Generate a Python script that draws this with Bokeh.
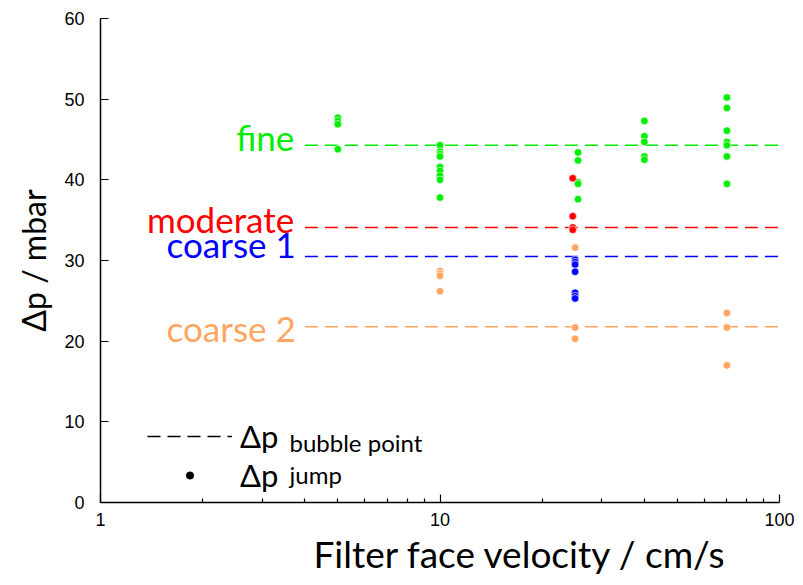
from bokeh.plotting import figure
from bokeh.models import (Range1d, FixedTicker, SingleIntervalTicker, PrintfTickFormatter,
                          Legend, LegendItem, Label, Title)
from bokeh.core.properties import value
from bokeh.embed import file_html
from bokeh.resources import INLINE

# Pressure jump measurements (mbar) at each filter face velocity (cm/s)
fine_x = [5, 5, 5, 5,
          10, 10, 10, 10, 10, 10, 10, 10, 10,
          25.5, 25.5, 25.5, 25.5, 25.5,
          40, 40, 40, 40, 40,
          70, 70, 70, 70, 70, 70, 70]
fine_y = [47.7, 47.3, 46.9, 43.8,
          44.3, 43.5, 43.2, 42.9, 41.6, 41.1, 40.5, 40.0, 37.8,
          43.4, 42.4, 39.7, 39.5, 37.6,
          47.3, 45.4, 44.7, 42.9, 42.5,
          50.2, 48.9, 46.1, 44.7, 44.3, 42.9, 39.5]

moderate_x = [24.6, 24.6, 24.6, 24.6]
moderate_y = [40.2, 35.5, 34.1, 33.8]

coarse1_x = [25, 25, 25, 25, 25, 25, 25]
coarse1_y = [30.1, 29.8, 29.5, 28.6, 26.0, 25.6, 25.3]

coarse2_x = [10, 10, 10, 10, 25, 25, 25, 70, 70, 70]
coarse2_y = [28.7, 28.4, 28.1, 26.2, 31.6, 21.7, 20.3, 23.5, 21.7, 17.0]

# Bubble point pressure of each filter grade (mbar)
grades = ["fine", "moderate", "coarse 1", "coarse 2"]
bubble_point = [44.3, 34.1, 30.5, 21.8]
grade_colors = ["#00ee00", "#ff0000", "#0000ff", "#ffa560"]
bubble_x_start = 4
bubble_x_end = 100

# Grade name placement (left of each bubble point line)
name_x = [3.72, 3.72, 3.76, 3.76]
name_y = [45.3, 35.2, 32.0, 21.6]

x_ticks = [1, 10, 100]
x_minor = [2, 3, 4, 5, 6, 7, 8, 9, 20, 30, 40, 50, 60, 70, 80, 90]

TEXT_FONT = "Lato"
TICK_FONT = "Liberation Sans"

p = figure(width=803, height=585, x_axis_type="log",
           x_range=Range1d(1, 100), y_range=Range1d(0, 60),
           output_backend="svg", toolbar_location=None,
           min_border_left=100, min_border_right=24,
           min_border_top=18, min_border_bottom=83)
p.outline_line_color = None
p.xgrid.visible = False
p.ygrid.visible = False
p.background_fill_color = "white"
p.border_fill_color = "white"

# bubble point lines
for bp, c in zip(bubble_point, grade_colors):
    p.segment(x0=[bubble_x_start], y0=[bp], x1=[bubble_x_end], y1=[bp],
              line_color=c, line_width=1.5, line_dash="13 7")

# grade names
p.text(x=name_x, y=name_y, text=grades, text_color=grade_colors,
       text_align="right", text_baseline="middle",
       text_font=value(TEXT_FONT), text_font_size="35px")

# jump pressure points
for xs, ys, c in [(fine_x, fine_y, grade_colors[0]),
                  (moderate_x, moderate_y, grade_colors[1]),
                  (coarse1_x, coarse1_y, grade_colors[2]),
                  (coarse2_x, coarse2_y, grade_colors[3])]:
    p.scatter(xs, ys, size=7.5, fill_color=c, line_color="white", line_width=0.6)

# legend keys: black styles only, their single NaN point draws nothing in the plot
nan = float("nan")
key_line = p.line(x=[nan, nan], y=[nan, nan], line_color="black", line_width=1.5,
                  line_dash="13 7")
key_dot = p.scatter(x=[nan], y=[nan], size=7, fill_color="black", line_color="black")
legend = Legend(items=[LegendItem(label="Δp", renderers=[key_line]),
                       LegendItem(label="Δp", renderers=[key_dot])],
                location=(47, 8), orientation="vertical",
                glyph_width=85, glyph_height=18, label_height=39,
                label_standoff=8, padding=0, margin=0, spacing=0,
                border_line_color=None, background_fill_alpha=0,
                label_text_font=TEXT_FONT, label_text_font_size="31px",
                label_text_color="black")
p.add_layout(legend, "center")

for sub, sy in [("bubble point", 60), ("jump", 28)]:
    p.add_layout(Label(x=189, y=sy, x_units="screen", y_units="screen", text=sub,
                       text_font=TEXT_FONT, text_font_size="24px",
                       text_color="black", text_baseline="alphabetic"))

# axes
xa = p.xaxis[0]
xa.ticker = FixedTicker(ticks=x_ticks, minor_ticks=x_minor)
xa.formatter = PrintfTickFormatter(format="%d")
ya = p.yaxis[0]
ya.ticker = SingleIntervalTicker(interval=10)
ya.minor_tick_line_color = None

for ax in (xa, ya):
    ax.axis_line_width = 1.5
    ax.axis_line_color = "black"
    ax.major_tick_in = 8
    ax.major_tick_out = 0
    ax.minor_tick_in = 4
    ax.minor_tick_out = 0
    ax.major_tick_line_width = 1.2
    ax.minor_tick_line_width = 1.2
    ax.major_label_text_font = TICK_FONT
    ax.major_label_text_font_size = "18px"
    ax.major_label_text_color = "black"
xa.major_label_standoff = 10
ya.major_label_standoff = 16

# axis titles, set off from the centre of the frame
p.add_layout(Title(text="Filter face velocity / cm/s", align="left", offset=213,
                   standoff=1, text_font=TEXT_FONT, text_font_size="37px",
                   text_font_style="normal", text_color="black"), "below")
p.add_layout(Title(text="Δp / mbar", align="center", offset=10,
                   standoff=17, text_font=TEXT_FONT, text_font_size="32px",
                   text_font_style="normal", text_color="black"), "left")

open("out.html", "w").write(file_html(p, INLINE))
